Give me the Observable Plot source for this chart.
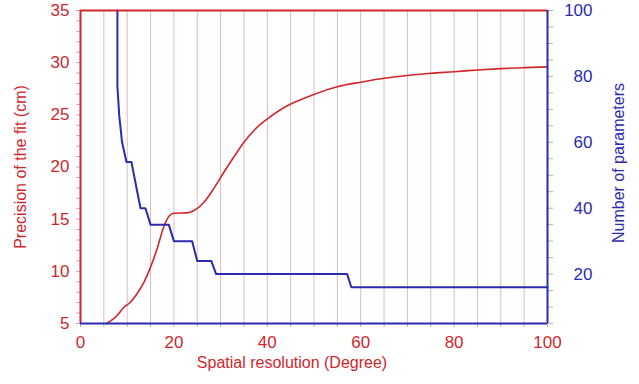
<!DOCTYPE html>
<html><head><meta charset="utf-8">
<script src="https://cdn.jsdelivr.net/npm/d3@7"></script>
<script src="https://cdn.jsdelivr.net/npm/@observablehq/plot@0.6"></script>
<style>body{margin:0;background:#fff;font-family:"Liberation Sans",Arial,sans-serif}</style>
</head><body><div id="chart"></div>
<script>
// Precision of the fit (cm) vs spatial resolution (deg)
const precX = [5.6, 7.85, 9.3, 10.7, 12.1, 13.6, 15.0, 16.4, 17.8, 18.9, 20.0, 22.8, 24.3, 26.4, 28.5, 30.7, 32.8, 35.0, 37.8, 40.7, 44.8, 47.1, 55, 60, 65, 70, 75, 80, 85, 90, 95, 100];
const precV = [5.0, 5.77, 6.56, 7.04, 7.85, 8.96, 10.4, 12.16, 14.23, 15.26, 15.57, 15.6, 15.83, 16.6, 17.9, 19.5, 20.94, 22.38, 23.8, 24.84, 25.99, 26.44, 27.7, 28.13, 28.5, 28.77, 28.99, 29.13, 29.3, 29.43, 29.52, 29.6];
// Number of parameters (right axis)
const parX = [7.9, 7.9, 8.3, 8.9, 9.85, 10.9, 12.85, 13.9, 15.0, 18.9, 20.0, 23.9, 25.0, 28.0, 29.05, 57.1, 58.0, 100];
const parN = [100, 77, 68, 60, 54, 54, 40, 40, 35, 35, 30, 30, 24, 24, 20, 20, 16, 16];
const xTicks = [0, 20, 40, 60, 80, 100];
const yLeftTicks = [5, 10, 15, 20, 25, 30, 35];
const yRightTicks = [20, 40, 60, 80, 100];

const RED = "#d0262c", BLUE = "#2b2bb0", GRID = "#dcbcbc", TICK = "#b0b0b0";
const L0 = 5, L1 = 35, R0 = 5, R1 = 100;
const toL = n => L0 + (n - R0) * (L1 - L0) / (R1 - R0);
const toR = v => R0 + (v - L0) * (R1 - R0) / (L1 - L0);

const prec = precX.map((x, i) => ({x, y: precV[i]}));
const par = parX.map((x, i) => ({x, y: toL(parN[i])}));
const gridX = d3.range(5, 100, 5);
const minorL = d3.range(5, 35.01, 1);
const minorR = d3.range(5, 100.01, 5).map(toL);
const minorX = d3.range(0, 100.01, 5);
const blank = () => "";

const chart = Plot.plot({
  width: 639, height: 384,
  marginLeft: 80, marginRight: 92, marginTop: 10, marginBottom: 61,
  style: {fontFamily: "'Liberation Sans', Arial, sans-serif", fontSize: "16px", background: "#fff"},
  x: {domain: [0, 100]},
  y: {domain: [L0, L1]},
  marks: [
    Plot.ruleX(gridX, {stroke: GRID, strokeWidth: 1}),
    Plot.axisY({ticks: minorL, tickSize: 4, stroke: TICK, tickFormat: blank, label: null}),
    Plot.axisY({anchor: "right", ticks: minorR, tickSize: 5, stroke: TICK, tickFormat: blank, label: null}),
    Plot.axisX({ticks: minorX, tickSize: 4, stroke: TICK, tickFormat: blank, label: null}),
    Plot.axisY({ticks: yLeftTicks, tickSize: 0, tickPadding: 11, fill: RED, fontSize: 17, label: null}),
    Plot.axisY({anchor: "right", ticks: yRightTicks.map(toL), tickSize: 0, tickPadding: 45, textAnchor: "end",
      tickFormat: d => String(Math.round(toR(d))), fill: BLUE, fontSize: 17, label: null}),
    Plot.axisX({ticks: xTicks, tickSize: 0, tickPadding: 12, fill: RED, fontSize: 17, label: null}),
    Plot.line(prec, {x: "x", y: "y", stroke: RED, strokeWidth: 1.6, curve: "monotone-x"}),
    Plot.line(par, {x: "x", y: "y", stroke: BLUE, strokeWidth: 2}),
    Plot.ruleY([L1], {stroke: RED, strokeWidth: 2}),
    Plot.ruleX([0], {stroke: RED, strokeWidth: 2}),
    Plot.ruleY([L0], {stroke: BLUE, strokeWidth: 2}),
    Plot.ruleX([100], {stroke: BLUE, strokeWidth: 2}),
    Plot.text(["Precision of the fit (cm)"], {frameAnchor: "left", textAnchor: "middle", rotate: -90, dx: -60, dy: 0, fill: RED, fontSize: 16}),
    Plot.text(["Number of parameters"], {frameAnchor: "right", textAnchor: "middle", rotate: -90, dx: 71, dy: -4, fill: BLUE, fontSize: 16}),
    Plot.text(["Spatial resolution (Degree)"], {frameAnchor: "bottom", textAnchor: "middle", dx: -22, dy: 44, fill: RED, fontSize: 16})
  ]
});
document.getElementById("chart").appendChild(chart);
</script></body></html>
